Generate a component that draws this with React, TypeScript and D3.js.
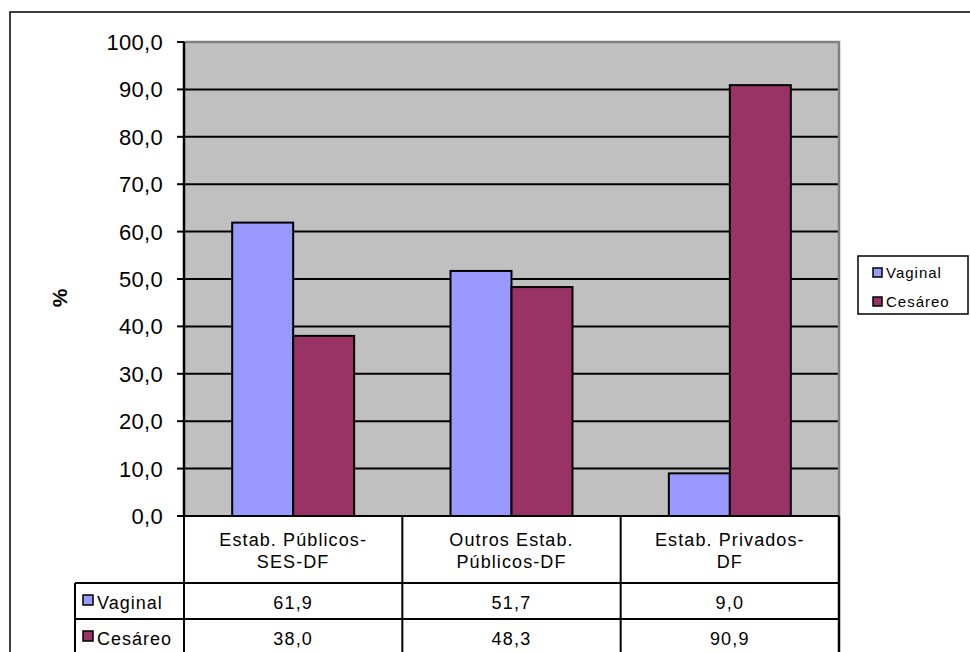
import React from "react";
import * as d3 from "d3";

const categories = ["Estab. Públicos-SES-DF", "Outros Estab. Públicos-DF", "Estab. Privados-DF"];
const categoryLines = [
  ["Estab. Públicos-", "SES-DF"],
  ["Outros Estab.", "Públicos-DF"],
  ["Estab. Privados-", "DF"],
];
const seriesNames = ["Vaginal", "Cesáreo"];
const seriesColors = ["#9999FF", "#993366"];
const vaginal = [61.9, 51.7, 9.0];
const cesareo = [38.0, 48.3, 90.9];
const yTicks = [0, 10, 20, 30, 40, 50, 60, 70, 80, 90, 100];

const W = 970;
const H = 652;
const plot = { left: 184, right: 839, top: 42, bottom: 516 };
const font = "'Liberation Sans', Arial, sans-serif";
const fmt = (v: number) => v.toFixed(1).replace(".", ",");

export default function App() {
  const series = [vaginal, cesareo];
  const x = d3.scaleBand<string>().domain(categories).range([plot.left, plot.right]).padding(0);
  const xi = d3
    .scaleBand<string>()
    .domain(seriesNames)
    .range([0, x.bandwidth()])
    .paddingInner(0)
    .paddingOuter(0.79);
  const y = d3.scaleLinear().domain([0, 100]).range([plot.bottom, plot.top]);

  const rowTop = 583;
  const rowH = 36;
  const tableLeft = 75;

  return (
    <svg
      width={W}
      height={H}
      style={{ position: "absolute", left: 0, top: 0, background: "#fff" }}
      fontFamily={font}
    >
      {/* chart frame */}
      <rect x={10} y={12} width={W + 20} height={H + 20} fill="#fff" stroke="#000" strokeWidth={1.5} />

      {/* plot area */}
      <rect
        x={plot.left}
        y={plot.top}
        width={plot.right - plot.left}
        height={plot.bottom - plot.top}
        fill="#C0C0C0"
      />
      {yTicks
        .filter((t) => t > 0 && t < 100)
        .map((t) => (
          <line key={t} x1={plot.left} x2={plot.right} y1={y(t)} y2={y(t)} stroke="#000" strokeWidth={2} />
        ))}
      <path
        d={`M${plot.left},${plot.top} H${plot.right} V${plot.bottom}`}
        fill="none"
        stroke="#808080"
        strokeWidth={2.5}
      />

      {/* bars */}
      {categories.map((c, ci) =>
        seriesNames.map((s, si) => {
          const v = series[si][ci];
          const bx = (x(c) as number) + (xi(s) as number);
          return (
            <rect
              key={c + s}
              x={bx}
              y={y(v)}
              width={xi.bandwidth()}
              height={y(0) - y(v)}
              fill={seriesColors[si]}
              stroke="#000"
              strokeWidth={2}
            />
          );
        })
      )}

      {/* y axis */}
      <line x1={plot.left} x2={plot.left} y1={plot.top} y2={plot.bottom} stroke="#000" strokeWidth={2.5} />
      {yTicks.map((t) => (
        <g key={t}>
          <line x1={plot.left - 7} x2={plot.left} y1={y(t)} y2={y(t)} stroke="#000" strokeWidth={2} />
          <text
            x={163}
            y={y(t) + 8}
            textAnchor="end"
            fontSize={22}
            letterSpacing={0.3}
            fill="#000"
          >
            {fmt(t)}
          </text>
        </g>
      ))}
      <text
        transform={`translate(67,298) rotate(-90)`}
        textAnchor="middle"
        fontSize={21}
        fontWeight="bold"
        fill="#000"
      >
        %
      </text>

      {/* data table */}
      <g stroke="#000" strokeWidth={2} fill="none">
        <line x1={plot.left} x2={plot.right} y1={plot.bottom} y2={plot.bottom} />
        {categories.map((c) => (
          <line key={c} x1={x(c) as number} x2={x(c) as number} y1={plot.bottom} y2={H + 5} />
        ))}
        <line x1={plot.right} x2={plot.right} y1={plot.bottom} y2={H + 5} strokeWidth={2.5} />
        {seriesNames.map((s, si) => (
          <line key={s} x1={tableLeft} x2={plot.right} y1={rowTop + si * rowH} y2={rowTop + si * rowH} />
        ))}
        <line x1={tableLeft} x2={tableLeft} y1={rowTop} y2={H + 5} />
      </g>

      {categories.map((c, ci) => {
        const cx = (x(c) as number) + x.bandwidth() / 2;
        return (
          <g key={c}>
            {categoryLines[ci].map((ln, li) => (
              <text
                key={li}
                x={cx}
                y={546 + li * 22}
                textAnchor="middle"
                fontSize={18}
                letterSpacing={1.1}
                fill="#000"
              >
                {ln}
              </text>
            ))}
            {seriesNames.map((s, si) => (
              <text
                key={s}
                x={cx}
                y={rowTop + si * rowH + 26}
                textAnchor="middle"
                fontSize={18}
                letterSpacing={1.2}
                fill="#000"
              >
                {fmt(series[si][ci])}
              </text>
            ))}
          </g>
        );
      })}

      {seriesNames.map((s, si) => (
        <g key={s}>
          <rect
            x={83}
            y={rowTop + si * rowH + 12}
            width={10}
            height={10}
            fill={seriesColors[si]}
            stroke="#000"
            strokeWidth={1.5}
          />
          <text x={97} y={rowTop + si * rowH + 26} fontSize={18} letterSpacing={1} fill="#000">
            {s}
          </text>
        </g>
      ))}

      {/* legend */}
      <rect x={858} y={256} width={110} height={58} fill="#fff" stroke="#000" strokeWidth={1.5} />
      {seriesNames.map((s, si) => (
        <g key={s}>
          <rect
            x={873}
            y={268 + si * 29}
            width={9}
            height={9}
            fill={seriesColors[si]}
            stroke="#000"
            strokeWidth={1.5}
          />
          <text x={886} y={278 + si * 29} fontSize={15} letterSpacing={1} fill="#000">
            {s}
          </text>
        </g>
      ))}
    </svg>
  );
}
